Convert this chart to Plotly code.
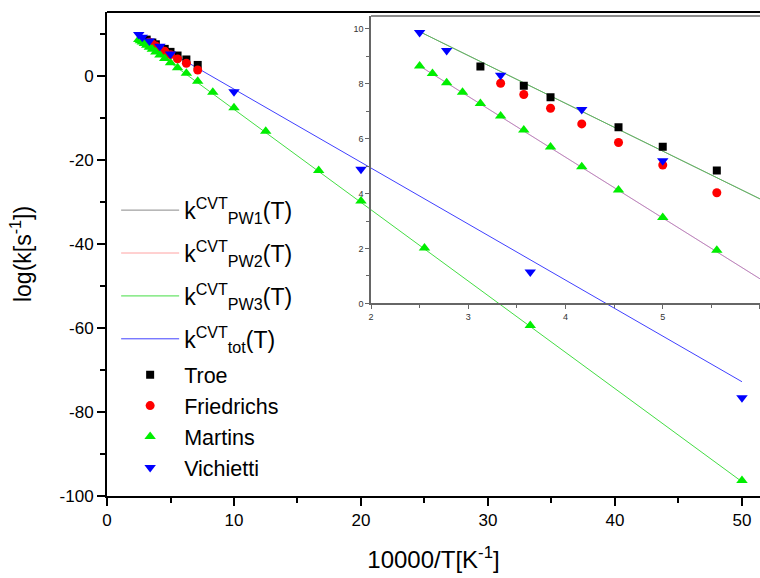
import plotly.graph_objects as go

# ---------------- data ----------------
# fitted lines (10000/T endpoints and log k)
fit_x = [2.5, 50]
pw1_y = [9.9, -72.8]
pw2_y = [8.65, -96.6]
pw3_y = [8.65, -96.6]
tot_y = [9.9, -72.8]

troe_x = [3.125, 3.571, 3.846, 4.545, 5.0, 5.556, 6.25, 7.143]
troe_y = [8.63, 7.93, 7.51, 6.42, 5.71, 4.84, 3.9, 2.6]

fried_x = [3.333, 3.571, 3.846, 4.167, 4.545, 5.0, 5.556, 6.25, 7.143]
fried_y = [8.02, 7.61, 7.11, 6.54, 5.86, 5.04, 4.03, 3.0, 1.4]

mart_x = [2.5, 2.632, 2.778, 2.941, 3.125, 3.333, 3.571, 3.846, 4.167, 4.545,
          5.0, 5.556, 6.25, 7.143, 8.333, 10, 12.5, 16.67, 20, 25, 33.33, 50]
mart_y = [8.65, 8.38, 8.04, 7.69, 7.28, 6.83, 6.32, 5.70, 4.98, 4.13,
          3.13, 1.94, 0.6, -1.3, -3.9, -7.6, -13.2, -22.5, -29.8, -41.0, -59.4, -96.3]

vich_x = [2.5, 2.778, 3.333, 4.167, 5.0, 10, 20, 33.33, 50]
vich_y = [9.87, 9.21, 8.31, 7.06, 5.20, -3.8, -22.2, -46.7, -76.6]

main_xticks = [0, 10, 20, 30, 40, 50]
main_yticks = [0, -20, -40, -60, -80, -100]
main_yticklabels = ["0", "-20", "-40", "-60", "-80", "-100"]
inset_xticks = [2, 3, 4, 5, 6]
inset_yticks = [0, 2, 4, 6, 8, 10]

FONT = "Arial, Liberation Sans, sans-serif"

fig = go.Figure()

ins = dict(xaxis="x2", yaxis="y2")

# ---- fitted lines ----
# PW1 / PW2 live in the inset (where their colours show), PW3 / tot in the main panel
fig.add_trace(go.Scatter(x=fit_x, y=pw1_y, mode="lines", name="k<sup>CVT</sup><sub>PW1</sub>(T)",
                         line=dict(color="rgba(40,40,40,0.55)", width=1), legendgroup="g1", **ins))
fig.add_trace(go.Scatter(x=fit_x, y=pw2_y, mode="lines", name="k<sup>CVT</sup><sub>PW2</sub>(T)",
                         line=dict(color="rgba(255,100,100,0.6)", width=1), legendgroup="g2", **ins))
fig.add_trace(go.Scatter(x=fit_x, y=pw3_y, mode="lines", name="k<sup>CVT</sup><sub>PW3</sub>(T)",
                         line=dict(color="#44dd44", width=1), legendgroup="g3"))
fig.add_trace(go.Scatter(x=fit_x, y=tot_y, mode="lines", name="k<sup>CVT</sup><sub>tot</sub>(T)",
                         line=dict(color="#4040ff", width=1), legendgroup="g4"))

# inset companions of the fitted lines
fig.add_trace(go.Scatter(x=fit_x, y=pw3_y, mode="lines", showlegend=False,
                         line=dict(color="rgba(110,110,230,0.5)", width=1), **ins))
fig.add_trace(go.Scatter(x=fit_x, y=tot_y, mode="lines", showlegend=False,
                         line=dict(color="rgba(80,200,80,0.75)", width=1), **ins))

# ---- main data points ----
mk = dict(legend="legend2")
fig.add_trace(go.Scatter(x=troe_x, y=troe_y, mode="markers", name="Troe",
                         marker=dict(symbol="square", size=8, color="#000000"), **mk))
fig.add_trace(go.Scatter(x=fried_x, y=fried_y, mode="markers", name="Friedrichs",
                         marker=dict(symbol="circle", size=9, color="#ff0000"), **mk))
fig.add_trace(go.Scatter(x=mart_x, y=mart_y, mode="markers", name="Martins",
                         marker=dict(symbol="triangle-up", size=10, color="#00ee00"), **mk))
fig.add_trace(go.Scatter(x=vich_x, y=vich_y, mode="markers", name="Vichietti",
                         marker=dict(symbol="triangle-down", size=10, color="#0000ff"), **mk))

# ---- inset data points ----
fig.add_trace(go.Scatter(x=troe_x, y=troe_y, mode="markers", showlegend=False,
                         marker=dict(symbol="square", size=8, color="#000000"), **ins))
fig.add_trace(go.Scatter(x=fried_x, y=fried_y, mode="markers", showlegend=False,
                         marker=dict(symbol="circle", size=9, color="#ff0000"), **ins))
fig.add_trace(go.Scatter(x=mart_x, y=mart_y, mode="markers", showlegend=False,
                         marker=dict(symbol="triangle-up", size=10, color="#00ee00"), **ins))
fig.add_trace(go.Scatter(x=vich_x, y=vich_y, mode="markers", showlegend=False,
                         marker=dict(symbol="triangle-down", size=10, color="#0000ff"), **ins))

main_axis = dict(showgrid=False, zeroline=False, showline=True, linecolor="black", linewidth=2,
                 ticks="outside", ticklen=8, tickwidth=2, tickcolor="black",
                 tickfont=dict(family=FONT, size=17, color="black"))
inset_axis = dict(showgrid=False, zeroline=False, showline=True, linecolor="#666666", linewidth=1.5,
                  ticks="outside", ticklen=4, tickwidth=1, tickcolor="#666666",
                  tickfont=dict(family=FONT, size=9, color="#333333"))

fig.update_layout(
    width=760, height=578,
    margin=dict(l=107, r=0, t=12, b=82),
    paper_bgcolor="white", plot_bgcolor="rgba(0,0,0,0)",
    font=dict(family=FONT, color="black"),
    xaxis=dict(range=[0, 51.42], tickvals=main_xticks, domain=[0, 1],
               minor=dict(dtick=5, ticks="outside", ticklen=5, tickwidth=2, tickcolor="black"),
               title=dict(text="10000/T[K<sup>-1</sup>]", font=dict(family=FONT, size=24), standoff=22),
               **main_axis),
    yaxis=dict(range=[-100, 15.2], tickvals=main_yticks, ticktext=main_yticklabels, domain=[0, 1],
               minor=dict(dtick=10, ticks="outside", ticklen=5, tickwidth=2, tickcolor="black"),
               title=dict(text="log(k[s<sup>-1</sup>])", font=dict(family=FONT, size=23), standoff=22),
               **main_axis),
    xaxis2=dict(domain=[0.4043, 1], range=[2, 6.0], anchor="y2", tickvals=inset_xticks,
                minor=dict(dtick=0.5, ticks="outside", ticklen=3, tickwidth=1, tickcolor="#666666"),
                **inset_axis),
    yaxis2=dict(domain=[0.398, 0.9917], range=[0, 10.47], anchor="x2", tickvals=inset_yticks,
                minor=dict(dtick=1, ticks="outside", ticklen=3, tickwidth=1, tickcolor="#666666"),
                **inset_axis),
    legend=dict(x=0.014, y=0.635, xanchor="left", yanchor="top", bgcolor="rgba(0,0,0,0)",
                font=dict(family=FONT, size=23, color="black"), tracegroupgap=10,
                traceorder="grouped", itemwidth=58),
    legend2=dict(x=0.014, y=0.293, xanchor="left", yanchor="top", bgcolor="rgba(0,0,0,0)",
                 font=dict(family=FONT, size=21.5, color="black"), itemwidth=58),
    showlegend=True,
)

# frame top lines (main and inset)
fig.add_shape(type="line", xref="paper", yref="paper", x0=0, x1=1, y0=1, y1=1,
              line=dict(color="black", width=2))
fig.add_shape(type="line", xref="x2 domain", yref="y2 domain", x0=0, x1=1, y0=1, y1=1,
              line=dict(color="#666666", width=1.5))

fig.write_html("out.html")
